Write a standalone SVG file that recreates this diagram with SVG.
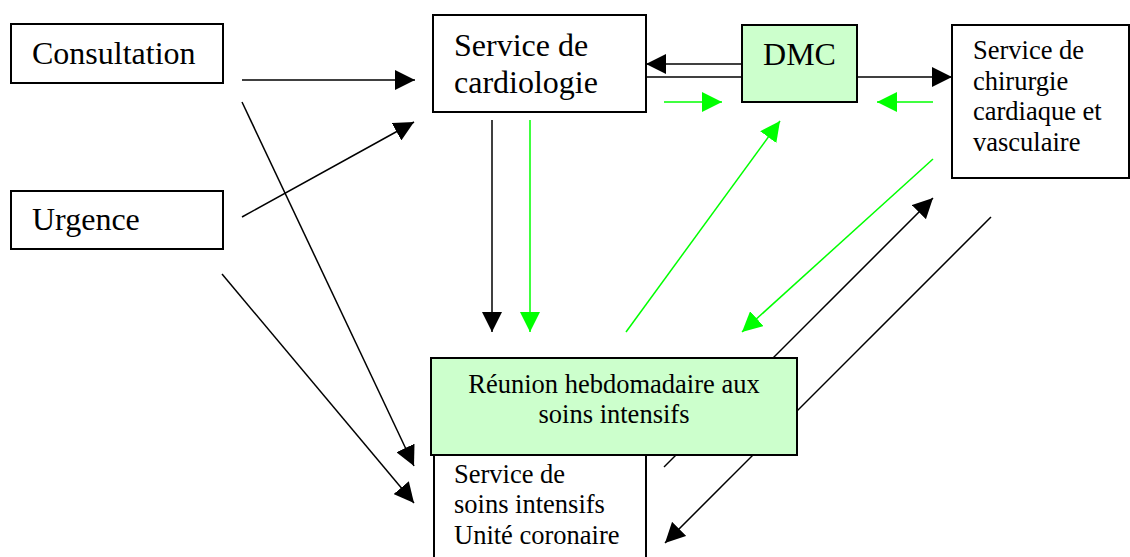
<svg xmlns="http://www.w3.org/2000/svg" width="1130" height="557" viewBox="0 0 1130 557">
<style>
.box{fill:#fff;stroke:#000;stroke-width:2}
.gbox{fill:#ccffcc;stroke:#000;stroke-width:2}
.big{font-family:"Liberation Serif","Times New Roman",serif;font-size:32px;fill:#000}
.mid{font-family:"Liberation Serif","Times New Roman",serif;font-size:26.5px;fill:#000}
.k{stroke:#000;stroke-width:1.5;fill:none}
.g{stroke:#00ff00;stroke-width:1.5;fill:none}
.ka{marker-end:url(#ak)}
.ga{marker-end:url(#ag)}
</style>
<defs>
<marker id="ak" viewBox="0 0 20 20" refX="20" refY="10" markerWidth="20" markerHeight="20" markerUnits="userSpaceOnUse" orient="auto"><path d="M0,0 L20,10 L0,20 z" fill="#000"/></marker>
<marker id="ag" viewBox="0 0 20 20" refX="20" refY="10" markerWidth="20" markerHeight="20" markerUnits="userSpaceOnUse" orient="auto"><path d="M0,0 L20,10 L0,20 z" fill="#00ff00"/></marker>
</defs>
<g id="connectors">
<line class="k ka" x1="242" y1="80" x2="415" y2="80"/>
<line class="k ka" x1="242" y1="102" x2="414" y2="466"/>
<line class="k ka" x1="242" y1="217" x2="414" y2="122"/>
<line class="k ka" x1="222" y1="274" x2="414" y2="503"/>
<line class="k ka" x1="492" y1="120" x2="492" y2="332"/>
<line class="g ga" x1="530" y1="120" x2="530" y2="332"/>
<line class="k ka" x1="742" y1="64" x2="646" y2="64"/>
<line class="k" x1="646" y1="77" x2="742" y2="77"/>
<line class="k ka" x1="857" y1="77" x2="952" y2="77"/>
<line class="g ga" x1="664" y1="102" x2="722" y2="102"/>
<line class="g ga" x1="933" y1="102" x2="877" y2="102"/>
<line class="g ga" x1="626" y1="332" x2="780" y2="121"/>
<line class="g ga" x1="933" y1="159" x2="742" y2="332"/>
<line class="k ka" x1="664" y1="467" x2="933" y2="198"/>
<line class="k ka" x1="991" y1="217" x2="665" y2="543"/>
</g>
<g id="consultation">
<rect class="box" x="11" y="24" width="212" height="59"/>
<text class="big" x="32" y="64">Consultation</text>
</g>
<g id="urgence">
<rect class="box" x="11" y="191" width="212" height="58"/>
<text class="big" x="32" y="230">Urgence</text>
</g>
<g id="cardiologie">
<rect class="box" x="433" y="15" width="213" height="97"/>
<text class="big" x="454" y="56">Service de</text>
<text class="big" x="454" y="93">cardiologie</text>
</g>
<g id="dmc">
<rect class="gbox" x="742" y="25" width="115" height="77"/>
<text class="big" x="799.5" y="65" text-anchor="middle">DMC</text>
</g>
<g id="chirurgie">
<rect class="box" x="952" y="25" width="177" height="153"/>
<text class="mid" x="973" y="59">Service de</text>
<text class="mid" x="973" y="90">chirurgie</text>
<text class="mid" x="973" y="120">cardiaque et</text>
<text class="mid" x="973" y="151">vasculaire</text>
</g>
<g id="soins-intensifs">
<rect class="box" x="434" y="420" width="212" height="180"/>
<text class="mid" x="454" y="483">Service de</text>
<text class="mid" x="454" y="513">soins intensifs</text>
<text class="mid" x="454" y="544">Unité coronaire</text>
</g>
<g id="reunion">
<rect class="gbox" x="431" y="358" width="366" height="97"/>
<text class="mid" x="614" y="393" text-anchor="middle">Réunion hebdomadaire aux</text>
<text class="mid" x="614" y="423" text-anchor="middle">soins intensifs</text>
</g>
</svg>
